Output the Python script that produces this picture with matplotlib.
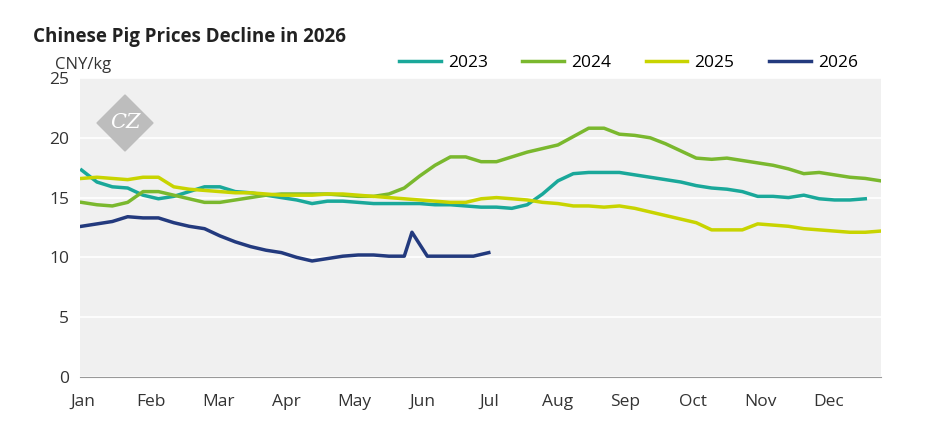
import matplotlib.pyplot as plt
import numpy as np
from matplotlib.patches import Polygon

plt.rcParams['font.family'] = ['Open Sans', 'DejaVu Sans']

months = ["Jan", "Feb", "Mar", "Apr", "May", "Jun", "Jul", "Aug", "Sep", "Oct", "Nov", "Dec"]

p2023 = [17.3, 16.3, 15.9, 15.8, 15.2, 14.9, 15.1, 15.5, 15.9, 15.9, 15.5, 15.4, 15.2, 15.0,
         14.8, 14.5, 14.7, 14.7, 14.6, 14.5, 14.5, 14.5, 14.5, 14.4, 14.4, 14.3, 14.2, 14.2,
         14.1, 14.4, 15.3, 16.4, 17.0, 17.1, 17.1, 17.1, 16.9, 16.7, 16.5, 16.3, 16.0, 15.8,
         15.7, 15.5, 15.1, 15.1, 15.0, 15.2, 14.9, 14.8, 14.8, 14.9]
p2024 = [14.6, 14.4, 14.3, 14.6, 15.5, 15.5, 15.2, 14.9, 14.6, 14.6, 14.8, 15.0, 15.2, 15.3,
         15.3, 15.3, 15.3, 15.2, 15.1, 15.1, 15.3, 15.8, 16.8, 17.7, 18.4, 18.4, 18.0, 18.0,
         18.4, 18.8, 19.1, 19.4, 20.1, 20.8, 20.8, 20.3, 20.2, 20.0, 19.5, 18.9, 18.3, 18.2,
         18.3, 18.1, 17.9, 17.7, 17.4, 17.0, 17.1, 16.9, 16.7, 16.6, 16.4]
p2025 = [16.6, 16.7, 16.6, 16.5, 16.7, 16.7, 15.9, 15.7, 15.6, 15.5, 15.4, 15.4, 15.3, 15.2,
         15.2, 15.2, 15.3, 15.3, 15.2, 15.1, 15.0, 14.9, 14.8, 14.7, 14.6, 14.6, 14.9, 15.0,
         14.9, 14.8, 14.6, 14.5, 14.3, 14.3, 14.2, 14.3, 14.1, 13.8, 13.5, 13.2, 12.9, 12.3,
         12.3, 12.3, 12.8, 12.7, 12.6, 12.4, 12.3, 12.2, 12.1, 12.1, 12.2]
w2026 = [0, 1, 2, 3, 4, 5, 6, 7, 8, 9, 10, 11, 12, 13, 14, 15, 16, 17, 18, 19,
         20, 21, 21.5, 22.5, 24, 25.5, 26.5]
p2026 = [12.6, 12.8, 13.0, 13.4, 13.3, 13.3, 12.9, 12.6, 12.4, 11.8, 11.3, 10.9, 10.6, 10.4,
         10.0, 9.7, 9.9, 10.1, 10.2, 10.2, 10.1, 10.1, 12.1, 10.1, 10.1, 10.1, 10.4]

fig = plt.figure(figsize=(9.45, 4.43), dpi=100)
ax = fig.add_axes([0.0847, 0.149, 0.848, 0.675])
ax.set_facecolor('#f0f0f0')
ax.set_axisbelow(True)
ax.grid(axis='y', color='white', linewidth=1.2)

ax.plot(np.arange(len(p2023)), p2023, color='#1aa89a', lw=2.5, label='2023')
ax.plot(np.arange(len(p2024)), p2024, color='#7ab82e', lw=2.5, label='2024')
ax.plot(np.arange(len(p2025)), p2025, color='#c8d400', lw=2.5, label='2025')
ax.plot(w2026, p2026, color='#233a7e', lw=2.5, label='2026')

ax.set_xlim(-0.1, 52.05)
ax.set_ylim(0, 25)
ax.set_yticks(range(0, 26, 5))
ax.set_xticks(np.arange(12) * 4.41 + 0.1)
ax.set_xticklabels(months)
ax.tick_params(labelsize=12.5, colors='#333333', length=0, pad=8)
ax.tick_params(axis='x', pad=12)
for s in ['top', 'right', 'left']:
    ax.spines[s].set_visible(False)
ax.spines['bottom'].set_color('#999999')

ax.legend(loc='lower right', bbox_to_anchor=(0.99, 0.97), ncol=4, frameon=False,
          fontsize=12.5, handlelength=2.4, handletextpad=0.4, columnspacing=2.0)

# logo
cx, cy, r = 125, 443 - 123, 28
fig.patches.append(Polygon([(cx - r, cy), (cx, cy + r), (cx + r, cy), (cx, cy - r)],
                           closed=True, transform=None, color='#bdbdbd', zorder=1))
fig.text(cx / 945, cy / 443, 'CZ', ha='center', va='center', fontsize=15,
         color='white', family='DejaVu Serif', style='italic', zorder=2)

fig.text(0.035, 0.905, 'Chinese Pig Prices Decline in 2026', fontsize=13.5,
         fontweight='bold', color='#222222')
fig.text(0.058, 0.845, 'CNY/kg', fontsize=12, color='#333333')

fig.savefig('out.png', dpi=100)
